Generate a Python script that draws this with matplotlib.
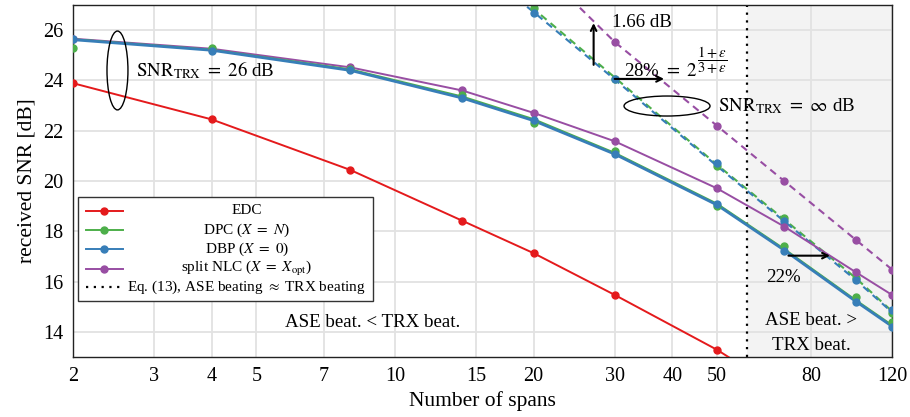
import numpy as np
import matplotlib
matplotlib.use("Agg")
from matplotlib import pyplot as plt
from matplotlib.patches import Ellipse, Rectangle
from matplotlib.lines import Line2D

plt.rcParams["font.family"] = ["Liberation Serif", "DejaVu Serif"]
plt.rcParams["mathtext.fontset"] = "stix"

# Number of spans (simulation points).
spans = [2, 4, 8, 14, 20, 30, 50, 70, 100, 120]

# Theory curves, SNR_TRX = 26 dB (solid).
edc_line = [23.89, 22.45, 20.44, 18.42, 17.13, 15.47, 13.29, 11.6]
dpc_line = [25.64, 25.22, 24.44, 23.36, 22.46, 21.12, 19.10, 17.30, 15.27, 14.27]
dbp_line = [25.62, 25.20, 24.40, 23.30, 22.40, 21.07, 19.05, 17.25, 15.22, 14.22]
nlc_line = [25.66, 25.26, 24.52, 23.60, 22.71, 21.58, 19.71, 18.19, 16.38, 15.47]

# Simulation markers, SNR_TRX = 26 dB.
edc_sim = [23.89, 22.45, 20.44, 18.42, 17.13, 15.47, 13.29]
dpc_sim = [25.30, 25.27, 24.45, 23.43, 22.29, 21.20, 19.02, 17.41, 15.40, 14.39]
dbp_sim = [25.64, 25.18, 24.41, 23.30, 22.42, 21.07, 19.09, 17.23, 15.20, 14.21]
nlc_sim = [25.64, 25.25, 24.52, 23.62, 22.71, 21.58, 19.71, 18.19, 16.38, 15.47]

# SNR_TRX = infinity (dashed).
spans_inf = [14, 20, 30, 50, 70, 100, 120]
dpc_inf_line = [29.2, 26.85, 24.12, 20.65, 18.47, 16.15, 14.82]
dbp_inf_line = [29.0, 26.72, 24.04, 20.60, 18.40, 16.07, 14.78]
spans_inf_sim = [20, 30, 50, 70, 100, 120]
dpc_inf_sim = [26.89, 24.06, 20.61, 18.53, 16.13, 14.76]
dbp_inf_sim = [26.70, 24.06, 20.70, 18.42, 16.07, 14.87]
spans_nlc_inf = [20, 30, 50, 70, 100, 120]
nlc_inf_line = [28.7, 25.53, 22.20, 20.00, 17.67, 16.48]
nlc_inf_sim = [25.53, 22.20, 20.00, 17.67, 16.48]

n_cross = 58  # Eq. (13)

xticks = [2, 3, 4, 5, 7, 10, 15, 20, 30, 40, 50, 80, 120]
yticks = [14, 16, 18, 20, 22, 24, 26]

red, green, blue, purple = "#e41a1c", "#4daf4a", "#377eb8", "#984ea3"

fig = plt.figure(figsize=(9.1, 4.17), dpi=100)
ax = fig.add_axes([73 / 910, 60 / 417, 819 / 910, 352 / 417])

ax.axvspan(n_cross, 120, color="#f3f3f3", zorder=0, lw=0)
ax.axvline(n_cross, color="k", ls=(0, (1, 2.5)), lw=1.6, zorder=2)

ms = 5
dash = (0, (3.5, 2.5))
ax.plot(spans[:len(edc_line)], edc_line, color=red, lw=1.4, zorder=3)
ax.plot(spans[:len(edc_sim)], edc_sim, "o", color=red, ms=ms, zorder=3)

ax.plot(spans_inf, dpc_inf_line, color=green, lw=1.5, ls=dash, zorder=3)
ax.plot(spans_inf, dbp_inf_line, color=blue, lw=1.5, ls=dash, zorder=3)
ax.plot(spans_nlc_inf, nlc_inf_line, color=purple, lw=1.5, ls=dash, zorder=3)
ax.plot(spans_inf_sim, dpc_inf_sim, "o", color=green, ms=ms, zorder=4)
ax.plot(spans_inf_sim, dbp_inf_sim, "o", color=blue, ms=ms, zorder=4)
ax.plot(spans_nlc_inf[1:], nlc_inf_sim, "o", color=purple, ms=ms, zorder=4)

ax.plot(spans, nlc_line, color=purple, lw=1.4, zorder=3)
ax.plot(spans, dpc_line, color=green, lw=1.4, zorder=3)
ax.plot(spans, dbp_line, color=blue, lw=2.0, zorder=3)
ax.plot(spans, nlc_sim, "o", color=purple, ms=ms, zorder=4)
ax.plot(spans, dpc_sim, "o", color=green, ms=ms, zorder=4)
ax.plot(spans, dbp_sim, "o", color=blue, ms=ms, zorder=4)

ax.set_xscale("log")
ax.set_xlim(2, 120)
ax.set_ylim(13, 27)
ax.set_xticks(xticks)
ax.set_xticklabels([str(v) for v in xticks])
ax.xaxis.set_minor_locator(matplotlib.ticker.NullLocator())
ax.set_yticks(yticks)
ax.tick_params(length=0, labelsize=14.5, pad=7)
ax.grid(True, color="#e2e2e2", lw=1.3)
ax.set_axisbelow(True)
for s in ax.spines.values():
    s.set_color("#222222")
    s.set_linewidth(1.0)
ax.spines["top"].set_zorder(6)

ax.set_xlabel("Number of spans", fontsize=15.5, labelpad=4)
ax.set_ylabel("received SNR [dB]", fontsize=15.5, labelpad=5)

# Annotations
tr = ax.transAxes
fs = 13.6
ax.add_patch(Ellipse((0.0543, 0.814), 0.0256, 0.224, transform=tr,
                     fill=False, ec="k", lw=1.0, zorder=5))
ax.text(0.0769, 0.815, r"$\mathrm{SNR}_{\mathrm{TRX}}\ =\ 26$ dB", transform=tr,
        fontsize=fs, va="center", ha="left", zorder=5)
ax.add_patch(Ellipse((0.7253, 0.713), 0.105, 0.0568, transform=tr,
                     fill=False, ec="k", lw=1.0, zorder=5))
ax.text(0.7875, 0.713, r"$\mathrm{SNR}_{\mathrm{TRX}}\ =\ \infty$ dB", transform=tr,
        fontsize=fs, va="center", ha="left", zorder=5)

arrow = dict(arrowstyle="->", color="k", lw=1.5, shrinkA=0, shrinkB=0)
ax.annotate("", xy=(27, 26.28), xytext=(27, 24.62), arrowprops=arrow, zorder=5)
ax.text(0.658, 0.949, "1.66 dB", transform=tr, fontsize=fs, va="center", zorder=5)
ax.annotate("", xy=(38.4, 24.06), xytext=(30, 24.06), arrowprops=arrow, zorder=5)
ax.text(0.6728, 0.798, r"28% $=\ 2$", transform=tr,
        fontsize=fs, va="baseline", zorder=5)
ax.text(0.7625, 0.842, r"$\dfrac{1+\epsilon}{3+\epsilon}$", transform=tr,
        fontsize=10.5, va="center", ha="left", zorder=5)
ax.annotate("", xy=(88, 17.03), xytext=(71.5, 17.03), arrowprops=arrow, zorder=5)
ax.text(0.867, 0.227, "22%", transform=tr, fontsize=fs, ha="center", va="center", zorder=5)

ax.text(0.366, 0.0966, "ASE beat. < TRX beat.", transform=tr, fontsize=fs,
        ha="center", va="center", zorder=5)
ax.text(0.901, 0.105, "ASE beat. >", transform=tr, fontsize=fs,
        ha="center", va="center", zorder=5)
ax.text(0.901, 0.032, "TRX beat.", transform=tr, fontsize=fs,
        ha="center", va="center", zorder=5)

# Legend, drawn by hand so the labels can be centred
ax.add_patch(Rectangle((0.0061, 0.159), 0.360, 0.2955, transform=tr,
                       fc="white", ec="#333333", lw=1.0, zorder=7))
leg_labels = ["EDC", r"DPC ($X\ =\ N$)", r"DBP ($X\ =\ 0$)",
              r"split NLC ($X\ =\ X_{\mathrm{opt}}$)",
              r"Eq. (13), ASE beating $\approx$ TRX beating"]
leg_colors = [red, green, blue, purple, "k"]
leg_rows = [0.4156, 0.3608, 0.3060, 0.2500, 0.1980]
for lab, col, yy in zip(leg_labels, leg_colors, leg_rows):
    if col == "k":
        ax.add_line(Line2D([0.0159, 0.0607], [yy, yy], transform=tr, color="k",
                           ls=(0, (1, 2.5)), lw=1.6, zorder=8))
    else:
        ax.add_line(Line2D([0.0159, 0.0607], [yy, yy], transform=tr, color=col,
                           lw=1.4, zorder=8))
        ax.add_line(Line2D([0.0379], [yy], transform=tr, color=col, marker="o",
                           ms=ms, zorder=8))
    ax.text(0.212, yy, lab, transform=tr, fontsize=11, ha="center",
            va="center", zorder=8)

fig.savefig("out.png", dpi=100)
